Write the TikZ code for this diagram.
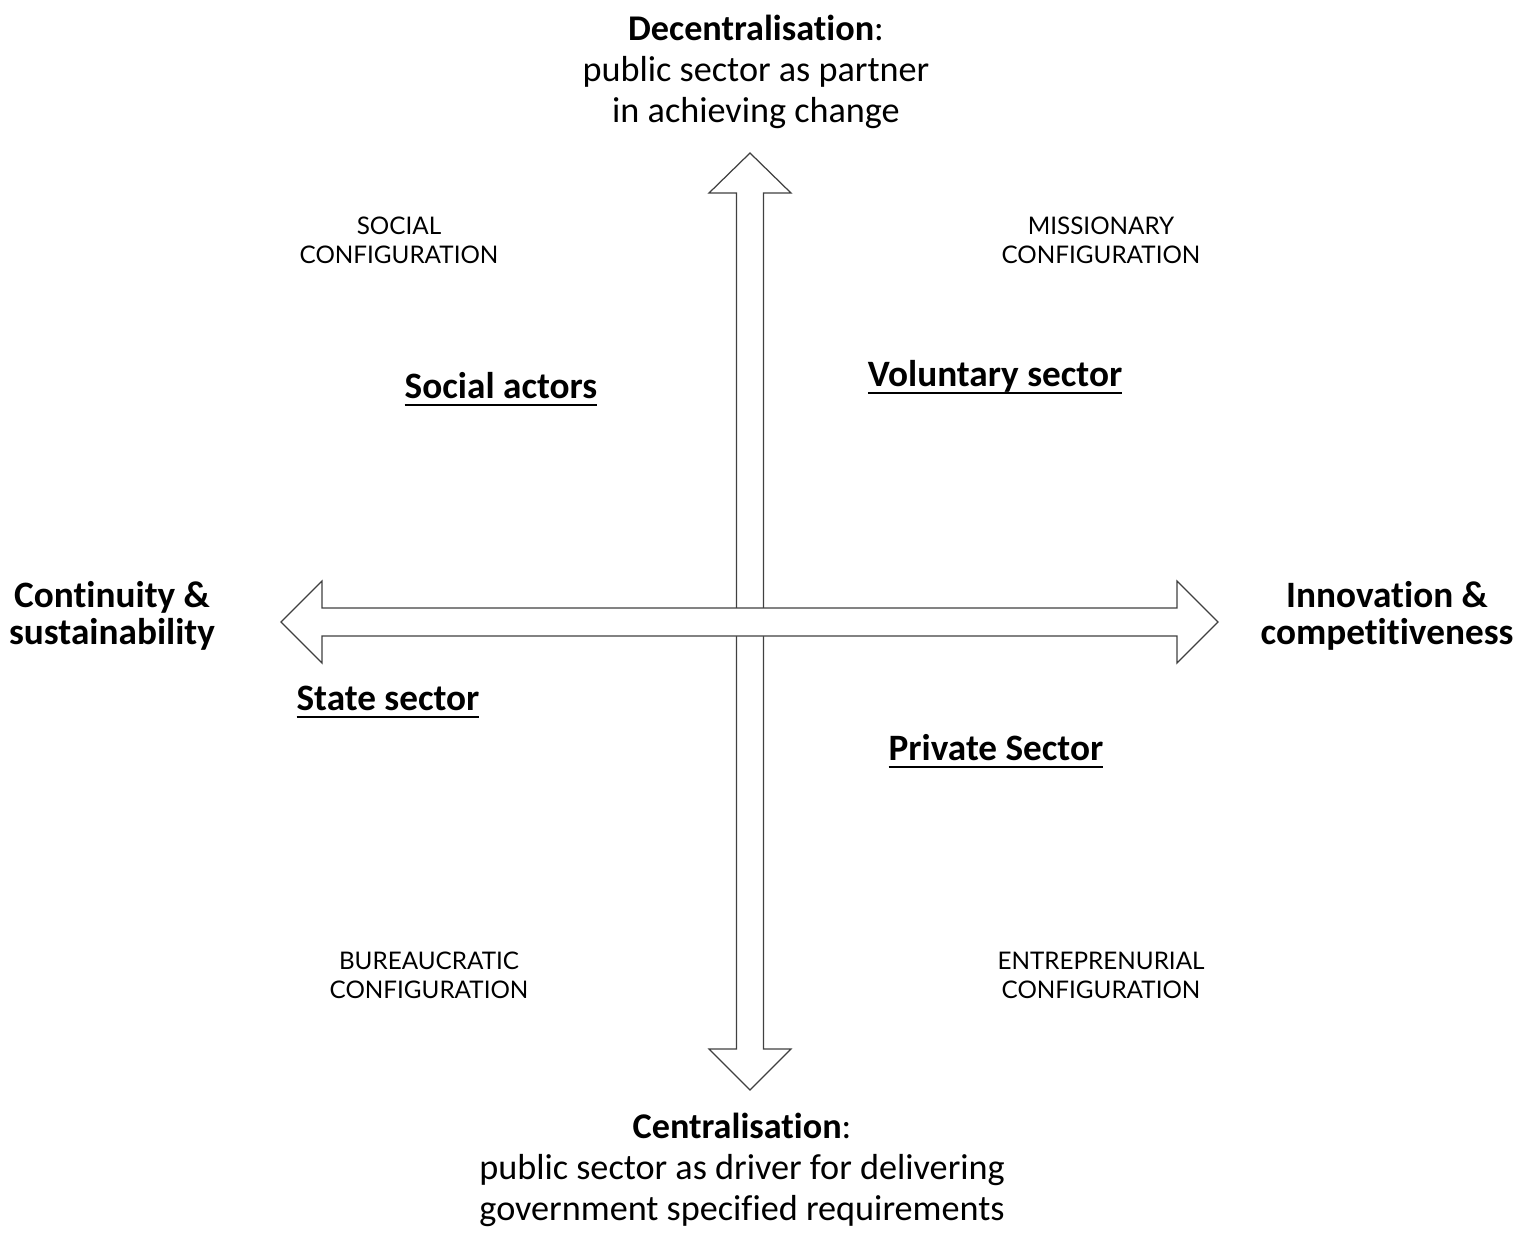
\documentclass[tikz,border=0pt]{standalone}
\usepackage{fontspec}
\setmainfont{Carlito}[Ligatures=NoCommon]
\newfontfamily\capsfont{Lato}
\newsavebox{\sectorbox}
\newcommand{\sectorul}[1]{\sbox{\sectorbox}{#1}\rlap{\vrule width\wd\sectorbox height -3.2pt depth 4.8pt}\usebox{\sectorbox}}
\usetikzlibrary{positioning}
\tikzset{
    axisarrow/.style = {draw=black!75, fill=white, line width=0.7pt, line join=miter},
    polelabel/.style = {align=center, inner sep=0pt, font=\fontsize{20.6}{23.5}\selectfont},
    sidelabel/.style = {align=center, inner sep=0pt, font=\fontsize{21.2}{21}\selectfont\bfseries},
    configlabel/.style = {align=center, inner sep=0pt, font=\capsfont\fontsize{13.8}{16.4}\selectfont},
    sectorlabel/.style = {anchor=base, inner sep=0pt, font=\fontsize{21.2}{24}\selectfont\bfseries}
}
\begin{document}
\begin{tikzpicture}[x=0.02cm, y=-0.02cm]
    \useasboundingbox (0,0) rectangle (1518,1232);

    % --- Axes ---
    \draw[axisarrow] (750,153) -- (791,193) -- (763.5,193) -- (763.5,1049) -- (791,1049)
        -- (750,1090) -- (709,1049) -- (736.5,1049) -- (736.5,193) -- (709,193) -- cycle;
    \draw[axisarrow] (281,622) -- (322,581) -- (322,608) -- (1177,608) -- (1177,581)
        -- (1218,622) -- (1177,663) -- (1177,636) -- (322,636) -- (322,663) -- cycle;

    % --- Pole labels ---
    \node[polelabel] (decentral) at (756,72) {\textbf{Decentralisation}:\\public sector as partner\\in achieving change};
    \node[polelabel] (central) at (742,1170) {\textbf{Centralisation}:\\public sector as driver for delivering\\government specified requirements};
    \node[sidelabel] (continuity) at (112,616) {Continuity \&\\sustainability};
    \node[sidelabel] (innovation) at (1387,616) {Innovation \&\\competitiveness};

    % --- Configurations ---
    \node[configlabel] (social) at (399,240) {SOCIAL\\CONFIGURATION};
    \node[configlabel] (missionary) at (1101,240) {MISSIONARY\\CONFIGURATION};
    \node[configlabel] (bureaucratic) at (429,975) {BUREAUCRATIC\\CONFIGURATION};
    \node[configlabel] (entrepren) at (1101,975) {ENTREPRENURIAL\\CONFIGURATION};

    % --- Sectors ---
    \node[sectorlabel] (actors) at (501,398) {\sectorul{Social actors}};
    \node[sectorlabel] (voluntary) at (995,386) {\sectorul{Voluntary sector}};
    \node[sectorlabel] (state) at (388,710) {\sectorul{State sector}};
    \node[sectorlabel] (private) at (996,760) {\sectorul{Private Sector}};
\end{tikzpicture}
\end{document}
